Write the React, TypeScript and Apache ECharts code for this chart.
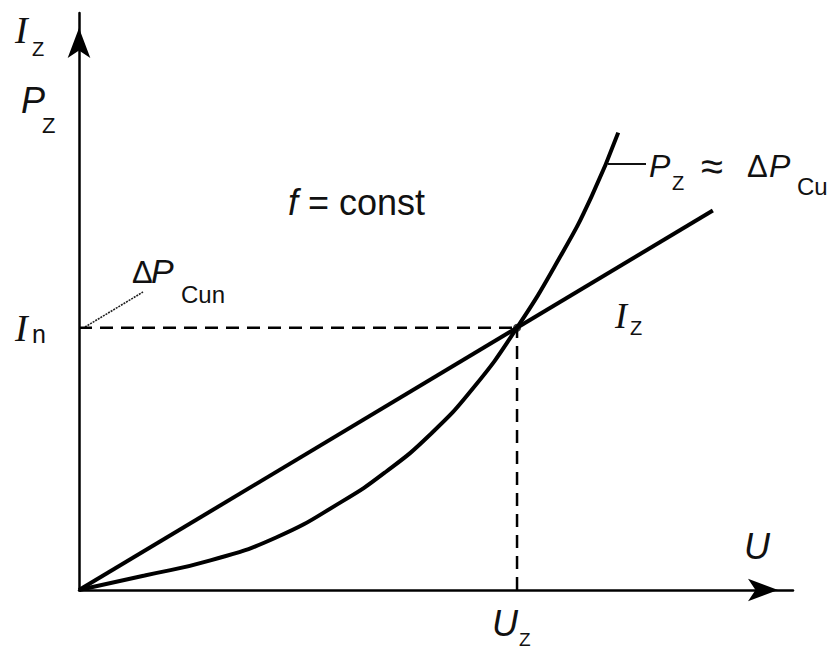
import React, { useEffect, useRef } from "react";
import * as echarts from "echarts";

// U in units of U_Z, values in units of I_n / ΔP_Cun
const uCurve = [0, 0.15, 0.3, 0.45, 0.6, 0.7, 0.8, 0.9, 1, 1.1, 1.17, 1.231];
const pCurve = [0, 0.055, 0.113, 0.2, 0.337, 0.45, 0.59, 0.77, 1, 1.275, 1.5, 1.744];
const uLine = [0, 1.447];
const iLine = [0, 1.447];
const uNominal = 1;
const iNominal = 1;
const xMax = 1.63;
const yMax = 2.2;

const SANS = '"Liberation Sans", Arial, sans-serif';
const SERIF = '"Liberation Serif", "Times New Roman", serif';

function txt(text: string, x: number, y: number, font: string, extra: any = {}) {
  return {
    type: "text",
    silent: true,
    style: {
      text,
      x,
      y,
      font,
      fill: "#111",
      align: "left",
      textAlign: "left",
      verticalAlign: "middle",
      textVerticalAlign: "middle",
      ...extra,
    },
  };
}

export default function App() {
  const ref = useRef<HTMLDivElement>(null);
  useEffect(() => {
    if (!ref.current) return;
    const chart = echarts.init(ref.current, null, { renderer: "svg" });
    const axisCommon = {
      type: "value",
      min: 0,
      axisLine: {
        show: true,
        onZero: false,
        symbol: ["none", "arrow"],
        symbolSize: [17, 30],
        symbolOffset: [0, -15],
        lineStyle: { color: "#000", width: 2.5 },
      },
      axisTick: { show: false },
      axisLabel: { show: false },
      splitLine: { show: false },
    };
    const option: any = {
      animation: false,
      backgroundColor: "#fff",
      grid: { left: 79, right: 44, top: 13, bottom: 61, containLabel: false },
      xAxis: { ...axisCommon, max: xMax },
      yAxis: { ...axisCommon, max: yMax },
      series: [
        {
          type: "line",
          data: [
            [0, iNominal],
            [uNominal, iNominal],
          ],
          symbol: "none",
          lineStyle: { color: "#000", width: 2.5, type: [13, 8] },
        },
        {
          type: "line",
          data: [
            [uNominal, 0],
            [uNominal, iNominal],
          ],
          symbol: "none",
          lineStyle: { color: "#000", width: 2.5, type: [13, 8] },
        },
        {
          type: "line",
          name: "I_Z",
          data: uLine.map((u, i) => [u, iLine[i]]),
          symbol: "none",
          lineStyle: { color: "#000", width: 4 },
        },
        {
          type: "line",
          name: "P_Z",
          smooth: 0.5,
          data: uCurve.map((u, i) => [u, pCurve[i]]),
          symbol: "none",
          lineStyle: { color: "#000", width: 4 },
        },
        {
          type: "scatter",
          data: [[uNominal, iNominal]],
          symbolSize: 8,
          itemStyle: { color: "#000" },
        },
      ],
      graphic: [
        // y axis labels
        txt("I", 15, 30, `italic 38px ${SERIF}`),
        txt("Z", 32, 49, `20px ${SANS}`),
        txt("P", 21, 100, `italic 36px ${SANS}`),
        txt("Z", 42, 125, `22px ${SANS}`),
        // I_n
        txt("I", 15, 328, `italic 38px ${SERIF}`),
        txt("n", 32, 334, `25px ${SANS}`),
        // ΔP_Cun with leader
        {
          type: "line",
          silent: true,
          shape: { x1: 85, y1: 327, x2: 143, y2: 292 },
          style: { stroke: "#222", lineWidth: 1.6, lineDash: [2, 1] },
        },
        txt("Δ", 132, 272, `31px ${SANS}`),
        txt("P", 151, 271, `italic 34px ${SANS}`),
        txt("Cun", 181, 294, `24px ${SANS}`),
        // f = const
        txt("{f|f} = const", 288, 202, `36px ${SANS}`, {
          rich: { f: { font: `italic 36px ${SANS}`, fill: "#111" } },
        }),
        // P_Z ≈ ΔP_Cu with leader
        {
          type: "line",
          silent: true,
          shape: { x1: 608, y1: 164, x2: 646, y2: 164 },
          style: { stroke: "#111", lineWidth: 2 },
        },
        txt("P", 649, 166, `italic 32px ${SANS}`),
        txt("Z", 672, 183, `20px ${SANS}`),
        txt("≈", 701, 166, `40px ${SANS}`),
        txt("Δ", 747, 166, `31px ${SANS}`),
        txt("P", 769, 166, `italic 32px ${SANS}`),
        txt("Cu", 797, 186, `24px ${SANS}`),
        // I_Z right
        txt("I", 615, 316, `italic 36px ${SERIF}`),
        txt("Z", 630, 328, `20px ${SANS}`),
        // U
        txt("U", 744, 546, `italic 36px ${SANS}`),
        // U_Z
        txt("U", 492, 623, `italic 36px ${SANS}`),
        txt("Z", 519, 639, `19px ${SANS}`),
      ],
    };
    chart.setOption(option);
    return () => chart.dispose();
  }, []);
  return (
    <div
      ref={ref}
      style={{ position: "absolute", left: 0, top: 0, width: 837, height: 651, background: "#fff" }}
    />
  );
}
